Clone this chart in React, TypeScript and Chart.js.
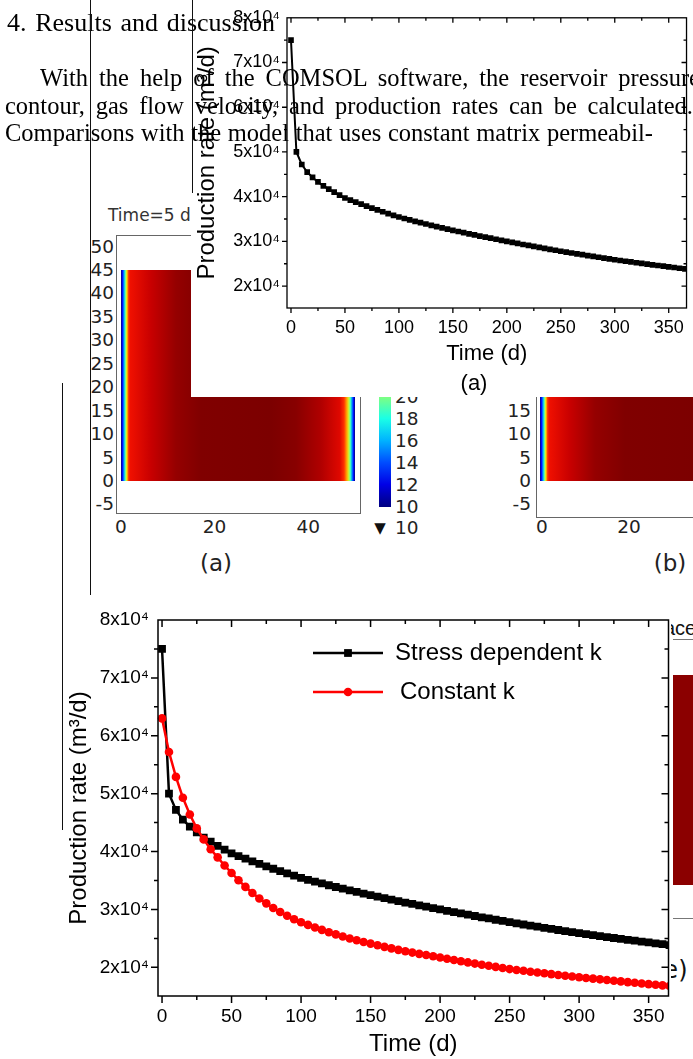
import React, { useEffect, useRef } from 'react';
import { Chart, registerables } from 'chart.js';

Chart.register(...registerables);

// ---------- data ----------
const TIME_D = [
  0, 5, 10, 15, 20, 25, 30, 35, 40, 45,
  50, 55, 60, 65, 70, 75, 80, 85, 90, 95,
  100, 105, 110, 115, 120, 125, 130, 135, 140, 145,
  150, 155, 160, 165, 170, 175, 180, 185, 190, 195,
  200, 205, 210, 215, 220, 225, 230, 235, 240, 245,
  250, 255, 260, 265, 270, 275, 280, 285, 290, 295,
  300, 305, 310, 315, 320, 325, 330, 335, 340, 345,
  350, 355, 360, 365,
];

const STRESS_K = [
  75000, 50000, 47200, 45500, 44300, 43300, 42400, 41700, 41000, 40350,
  39700, 39230, 38770, 38320, 37880, 37450, 37030, 36620, 36220, 35830,
  35450, 35120, 34800, 34490, 34180, 33880, 33590, 33300, 33020, 32740,
  32470, 32210, 31950, 31690, 31440, 31190, 30950, 30710, 30470, 30230,
  30000, 29770, 29540, 29310, 29090, 28870, 28650, 28440, 28220, 28010,
  27800, 27600, 27400, 27210, 27020, 26830, 26640, 26450, 26270, 26080,
  25900, 25730, 25560, 25400, 25230, 25070, 24920, 24760, 24610, 24450,
  24300, 24150, 24000, 23850,
];

const CONSTANT_K = [
  63000, 57200, 52900, 49300, 46400, 44000, 42100, 40400, 39000, 37600,
  36300, 35050, 33900, 32850, 31900, 31050, 30250, 29550, 28900, 28300,
  27800, 27330, 26890, 26470, 26070, 25690, 25330, 24990, 24670, 24370,
  24100, 23810, 23540, 23270, 23020, 22780, 22550, 22330, 22120, 21910,
  21700, 21480, 21260, 21050, 20850, 20650, 20460, 20270, 20080, 19890,
  19700, 19550, 19400, 19250, 19110, 18970, 18830, 18690, 18560, 18430,
  18300, 18170, 18050, 17930, 17810, 17690, 17570, 17450, 17330, 17220,
  17100, 16990, 16880, 16770,
];

const SERIES_LABELS = ['Stress dependent k', 'Constant k'];
// major (labelled) ticks
const Y_TICK_VALUES = [20000, 30000, 40000, 50000, 60000, 70000, 80000];
const Y_TICK_TEXT = ['2x10⁴', '3x10⁴', '4x10⁴', '5x10⁴', '6x10⁴', '7x10⁴', '8x10⁴'];
const X_TICK_VALUES = [0, 50, 100, 150, 200, 250, 300, 350];
// all tick marks (major + minor)
const Y_ALL_TICKS = [20000, 25000, 30000, 35000, 40000, 45000, 50000, 55000, 60000, 65000, 70000, 75000, 80000];
const X_ALL_TICKS = [0, 25, 50, 75, 100, 125, 150, 175, 200, 225, 250, 275, 300, 325, 350];
const X_TITLE = 'Time (d)';
const Y_TITLE = 'Production rate (m³/d)';

// contour picture tick labels
const CONTOUR_Y_A = [50, 45, 40, 35, 30, 25, 20, 15, 10, 5, 0, -5];
const CONTOUR_Y_B = [15, 10, 5, 0, -5];
const CONTOUR_X_A = [0, 20, 40];
const CONTOUR_X_B = [0, 20];
const COLORBAR_TICKS = [20, 18, 16, 14, 12, 10];

// ---------- fonts ----------
const SERIF = '"Liberation Serif", "Times New Roman", serif';
const SANS = '"Liberation Sans", Arial, sans-serif';
const DJ = '"DejaVu Sans", sans-serif';

Chart.defaults.font.family = SANS;
Chart.defaults.color = '#000';

// ---------- plugins ----------
const originFrame = {
  id: 'originFrame',
  afterDatasetsDraw(chart: any, _args: any, opts: any) {
    const { ctx, chartArea: a } = chart;
    const xs = chart.scales.x;
    const ys = chart.scales.y;
    ctx.save();
    ctx.strokeStyle = '#000';
    ctx.lineWidth = opts.lineWidth;
    ctx.beginPath();
    xs.ticks.forEach((t: any) => {
      if (t.value <= xs.min || t.value >= xs.max) return;
      const p = xs.getPixelForValue(t.value);
      const len = X_TICK_VALUES.includes(t.value) ? opts.major : opts.minor;
      ctx.moveTo(p, a.bottom);
      ctx.lineTo(p, a.bottom + len);
      ctx.moveTo(p, a.top);
      ctx.lineTo(p, a.top + len);
    });
    ys.ticks.forEach((t: any) => {
      if (t.value <= ys.min || t.value >= ys.max) return;
      const p = ys.getPixelForValue(t.value);
      const len = Y_TICK_VALUES.includes(t.value) ? opts.major : opts.minor;
      ctx.moveTo(a.left - len, p);
      ctx.lineTo(a.left, p);
      ctx.moveTo(a.right - len, p);
      ctx.lineTo(a.right, p);
    });
    ctx.stroke();
    ctx.strokeRect(a.left, a.top, a.right - a.left, a.bottom - a.top);
    ctx.restore();
  },
};

const insideLegend = {
  id: 'insideLegend',
  afterDraw(chart: any, _args: any, opts: any) {
    if (!opts || !opts.rows) return;
    const ctx = chart.ctx;
    ctx.save();
    chart.data.datasets.forEach((ds: any, i: number) => {
      const r = opts.rows[i];
      if (!r) return;
      ctx.strokeStyle = ds.borderColor;
      ctx.lineWidth = ds.borderWidth;
      ctx.beginPath();
      ctx.moveTo(r.x1, r.y);
      ctx.lineTo(r.x2, r.y);
      ctx.stroke();
      const cx = (r.x1 + r.x2) / 2;
      ctx.fillStyle = ds.backgroundColor;
      if (ds.pointStyle === 'rect') {
        const s = ds.pointRadius * Math.SQRT1_2;
        ctx.fillRect(cx - s, r.y - s, 2 * s, 2 * s);
      } else {
        ctx.beginPath();
        ctx.arc(cx, r.y, ds.pointRadius, 0, Math.PI * 2);
        ctx.fill();
      }
      ctx.fillStyle = '#000';
      ctx.font = `${opts.fontSize}px ${SANS}`;
      ctx.textBaseline = 'middle';
      ctx.textAlign = 'left';
      ctx.fillText(ds.label, r.tx, r.y);
    });
    ctx.restore();
  },
};

const toPoints = (ys: number[]) => TIME_D.map((t, i) => ({ x: t, y: ys[i] }));

function yLabel(v: number) {
  const i = Y_TICK_VALUES.indexOf(v);
  return i >= 0 ? Y_TICK_TEXT[i] : '';
}
function xLabel(v: number) {
  return X_TICK_VALUES.includes(v) ? String(v) : '';
}

function makeScales(p: any) {
  return {
    x: {
      type: 'linear',
      min: p.xMin,
      max: p.xMax,
      afterFit: (s: any) => { s.height = p.xHeight; },
      afterBuildTicks: (s: any) => { s.ticks = X_ALL_TICKS.map((v) => ({ value: v })); },
      grid: { display: false, drawTicks: false },
      border: { display: false },
      ticks: {
        autoSkip: false,
        maxRotation: 0,
        padding: p.xPad,
        font: { size: p.tickSize },
        color: '#000',
        callback: (v: any) => xLabel(v),
      },
      title: { display: true, text: X_TITLE, font: { size: p.xTitleSize }, color: '#000', padding: { top: 0, bottom: 0 } },
    },
    y: {
      type: 'linear',
      min: p.yMin,
      max: 80000,
      afterFit: (s: any) => { s.width = p.yWidth; },
      afterBuildTicks: (s: any) => { s.ticks = Y_ALL_TICKS.map((v) => ({ value: v })); },
      grid: { display: false, drawTicks: false },
      border: { display: false },
      ticks: {
        autoSkip: false,
        padding: p.yPad,
        font: { size: p.tickSize },
        color: '#000',
        callback: (v: any) => yLabel(v),
      },
      title: { display: true, text: Y_TITLE, font: { size: 24 }, color: '#000', padding: { top: p.yTitlePad, bottom: 0 } },
    },
  };
}

function insetConfig(): any {
  return {
    type: 'line',
    data: {
      datasets: [
        {
          label: SERIES_LABELS[0],
          data: toPoints(STRESS_K),
          borderColor: '#000',
          backgroundColor: '#000',
          borderWidth: 2,
          pointStyle: 'rect',
          pointRadius: 4,
          pointBorderWidth: 0,
          tension: 0,
        },
      ],
    },
    options: {
      animation: false,
      responsive: true,
      maintainAspectRatio: false,
      events: [],
      layout: { padding: { left: 0, right: 6, top: 14, bottom: 30 } },
      plugins: {
        legend: { display: false },
        tooltip: { enabled: false },
        originFrame: { lineWidth: 1.3, major: 5, minor: 3 },
      },
      scales: makeScales({
        xMin: -3.7, xMax: 366.5, xHeight: 59, xPad: 9, tickSize: 18, xTitleSize: 22,
        yMin: 15100, yWidth: 96, yPad: 7, yTitlePad: 2,
      }),
    },
    plugins: [originFrame],
  };
}

function mainConfig(): any {
  return {
    type: 'line',
    data: {
      datasets: [
        {
          label: SERIES_LABELS[0],
          data: toPoints(STRESS_K),
          borderColor: '#000',
          backgroundColor: '#000',
          borderWidth: 2.5,
          pointStyle: 'rect',
          pointRadius: 5.5,
          pointBorderWidth: 0,
          tension: 0,
          order: 1,
          clip: { left: 6, top: 0, right: 0, bottom: 0 },
        },
        {
          label: SERIES_LABELS[1],
          data: toPoints(CONSTANT_K),
          borderColor: '#ff0000',
          backgroundColor: '#ff0000',
          borderWidth: 2.5,
          pointStyle: 'circle',
          pointRadius: 4.3,
          pointBorderWidth: 0,
          tension: 0,
          order: 0,
          clip: { left: 6, top: 0, right: 0, bottom: 0 },
        },
      ],
    },
    options: {
      animation: false,
      responsive: true,
      maintainAspectRatio: false,
      events: [],
      layout: { padding: { left: 0, right: 2, top: 25, bottom: 0 } },
      plugins: {
        legend: { display: false },
        tooltip: { enabled: false },
        originFrame: { lineWidth: 1.5, major: 7, minor: 4 },
        insideLegend: {
          fontSize: 24,
          rows: [
            { x1: 248, x2: 318, y: 58, tx: 330 },
            { x1: 248, x2: 318, y: 97, tx: 335 },
          ],
        },
      },
      scales: makeScales({
        xMin: -2.9, xMax: 364.3, xHeight: 63, xPad: 9, tickSize: 19, xTitleSize: 24,
        yMin: 15050, yWidth: 93, yPad: 9, yTitlePad: 0,
      }),
    },
    plugins: [originFrame, insideLegend],
  };
}

function ChartBox({ make, style }: { make: () => any; style: React.CSSProperties }) {
  const ref = useRef<HTMLCanvasElement>(null);
  useEffect(() => {
    const chart = new Chart(ref.current as HTMLCanvasElement, make());
    return () => chart.destroy();
  }, []);
  return (
    <div style={{ position: 'absolute', ...style }}>
      <canvas ref={ref} />
    </div>
  );
}

// ---------- helpers for the page layers ----------
type LblProps = { x: number; y: number; text: string; align?: 'left' | 'center' | 'right'; size?: number; font?: string; color?: string; z?: number };
function Lbl({ x, y, text, align = 'left', size = 18.5, font = DJ, color = '#222', z = 1 }: LblProps) {
  const tx = align === 'left' ? '0' : align === 'center' ? '-50%' : '-100%';
  return (
    <div
      style={{
        position: 'absolute', left: x, top: y, transform: `translate(${tx}, -50%)`,
        fontFamily: font, fontSize: size, lineHeight: 1, color, whiteSpace: 'nowrap', zIndex: z,
      }}
    >
      {text}
    </div>
  );
}

function Box({ l, t, w, h, bg, z = 1, extra = {} }: { l: number; t: number; w: number; h: number; bg: string; z?: number; extra?: React.CSSProperties }) {
  return <div style={{ position: 'absolute', left: l, top: t, width: w, height: h, background: bg, zIndex: z, ...extra }} />;
}

const EDGE_L = '#00007a 0px, #0010ff 1.5px, #00a0ff 3px, #40ffc0 4.2px, #d0ff30 5.2px, #ffc000 6.2px, #ff4000 7.5px, #f01000 9px';
const GRAD_A = `linear-gradient(to right, ${EDGE_L}, #c80000 30px, #950000 55px, #800000 80px, #7c0000 150px, #880000 175px, #b00000 200px, #e00800 219px, #ff3000 223px, #ffb000 226px, #c0ff40 228px, #40ffc0 229.5px, #0090ff 231px, #0010ff 232.5px, #00007a 234px)`;
const GRAD_B = `linear-gradient(to right, ${EDGE_L}, #c80000 30px, #950000 55px, #800000 85px, #7c0000 160px)`;
const GRAD_BAR = 'linear-gradient(to bottom, #ccff33 0px, #80ff80 16.5px, #1affe6 38.5px, #00b3ff 60.5px, #004dff 82.5px, #0000e6 104.5px, #0000b3 115.5px, #000080 127px)';

function TextLine({ text, left, width, baseline, size, z = 5 }: { text: string; left: number; width: number; baseline: number; size: number; z?: number }) {
  const top = baseline - ((size - 1.107 * size) / 2 + 0.891 * size);
  return (
    <div
      style={{
        position: 'absolute', left, top, width, height: size, fontFamily: SERIF, fontSize: size,
        lineHeight: `${size}px`, textAlign: 'justify', textAlignLast: 'justify' as any, color: '#000', zIndex: z,
      }}
    >
      {text}
    </div>
  );
}

export default function App() {
  const cyA = (v: number) => 481 - v * 4.69;
  return (
    <div style={{ position: 'absolute', left: 0, top: 0, width: 693, height: 1059, overflow: 'hidden', background: '#fff' }}>
      {/* ---- background contour picture (a) ---- */}
      <Box l={116} t={235} w={245} h={279} bg="transparent" extra={{ border: '1px solid #666', boxSizing: 'border-box' }} />
      <Box l={121} t={270} w={234} h={211} bg={GRAD_A} />
      {CONTOUR_Y_A.map((v) => <Lbl key={'ya' + v} x={114} y={cyA(v)} text={String(v)} align="right" />)}
      {CONTOUR_X_A.map((v) => <Lbl key={'xa' + v} x={121 + v * 4.68} y={527} text={String(v)} align="center" />)}
      <Lbl x={108} y={215} text="Time=5 d" color="#333" size={17} />
      <Box l={379} t={380} w={12} h={127} bg={GRAD_BAR} />
      {COLORBAR_TICKS.map((v) => <Lbl key={'cb' + v} x={395} y={507 - (v - 10) * 11} text={String(v)} />)}
      <Lbl x={380} y={528} text="▼" align="center" size={15} color="#111" />
      <Lbl x={395} y={528} text="10" />
      <Lbl x={216} y={563} text="(a)" align="center" size={23} />

      {/* ---- background contour picture (b) ---- */}
      <Box l={536} t={380} w={170} h={138} bg="transparent" extra={{ borderLeft: '1px solid #666', borderBottom: '1px solid #666', boxSizing: 'border-box' }} />
      <Box l={540} t={380} w={160} h={101} bg={GRAD_B} />
      {CONTOUR_Y_B.map((v) => <Lbl key={'yb' + v} x={531} y={cyA(v)} text={String(v)} align="right" />)}
      {CONTOUR_X_B.map((v) => <Lbl key={'xb' + v} x={542 + v * 4.35} y={527} text={String(v)} align="center" />)}
      <Lbl x={670} y={563} text="(b)" align="center" size={23} />

      {/* ---- remnants at the right of the lower chart ---- */}
      <Lbl x={664} y={628} text="ace" size={20} font={SANS} color="#111" />
      <Box l={673} t={639} w={20} h={1} bg="#777" />
      <Box l={673} t={675} w={20} h={210} bg="#8b0000" />
      <Box l={673} t={918} w={20} h={1} bg="#777" />
      <Lbl x={654} y={970} text="(e)" size={24} color="#111" />

      {/* ---- inset chart (a) ---- */}
      <ChartBox make={insetConfig} style={{ left: 191, top: 0, width: 502, height: 397, background: '#fff', zIndex: 2 }} />
      <Lbl x={474} y={383} text="(a)" align="center" size={22} font={SANS} color="#000" z={2} />

      {/* ---- main chart ---- */}
      <Box l={65} t={595} w={606} h={464} bg="#fff" z={3} />
      <ChartBox make={mainConfig} style={{ left: 65, top: 595, width: 609, height: 464, zIndex: 4 }} />

      {/* ---- page text ---- */}
      <TextLine text="4. Results and discussion" left={7} width={268} baseline={32} size={26} />
      <TextLine text="With the help of the COMSOL software, the reservoir pressure" left={40} width={660} baseline={87} size={24.5} />
      <TextLine text="contour, gas flow velocity, and production rates can be calculated." left={5} width={688} baseline={115} size={24.5} />
      <TextLine text="Comparisons with the model that uses constant matrix permeabil-" left={5} width={648} baseline={142} size={24.5} />

      {/* ---- stray rules ---- */}
      <Box l={90} t={0} w={1} h={595} bg="#111" z={6} />
      <Box l={192} t={0} w={1} h={193} bg="#111" z={6} />
      <Box l={62} t={383} w={1} h={447} bg="#111" z={6} />
    </div>
  );
}
